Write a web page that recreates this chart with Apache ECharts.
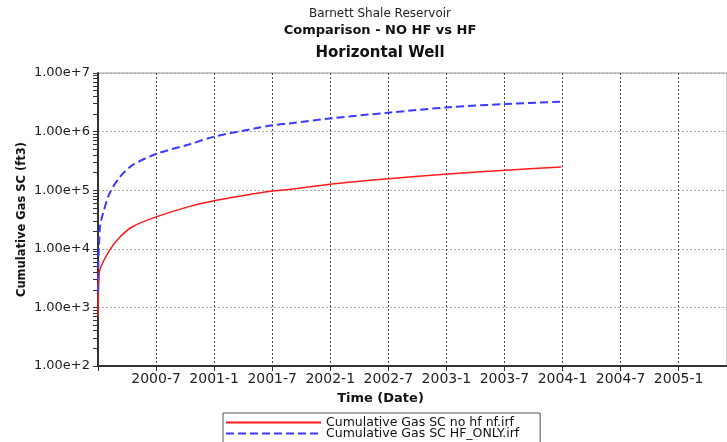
<!DOCTYPE html>
<html>
<head>
<meta charset="utf-8">
<script src="https://cdn.jsdelivr.net/npm/echarts@6/dist/echarts.min.js"></script>
<style>
  html, body { margin: 0; padding: 0; background: #fff; }
  #chart { width: 727px; height: 442px; }
</style>
</head>
<body>
<div id="chart"></div>
<script>
// Cumulative gas production, Barnett Shale horizontal well
const noHfDates = ['2000-01-01','2000-01-02','2000-01-04','2000-01-07','2000-02-07','2000-03-10','2000-04-19',
  '2000-07-01','2000-10-16','2001-01-01','2001-05-10','2001-07-01','2001-08-25','2002-01-07','2002-07-01',
  '2003-01-07','2003-07-04','2003-12-28'];
const noHfGas = [700, 1500, 3000, 4400, 9500, 16000, 24000, 35000, 53000, 66000, 88000, 97000, 103000,
  128000, 157000, 189000, 220000, 250000];

const hfDates = ['2000-01-01','2000-01-02','2000-01-04','2000-01-08','2000-01-17','2000-02-07','2000-03-10',
  '2000-04-19','2000-07-01','2000-10-16','2001-01-01','2001-05-10','2001-07-01','2001-08-25','2002-01-07',
  '2002-07-01','2003-01-07','2003-07-04','2003-12-28'];
const hfGas = [1800, 5000, 10900, 25000, 40000, 89000, 170000, 270000, 415000, 610000, 820000, 1140000,
  1280000, 1380000, 1690000, 2100000, 2600000, 2950000, 3240000];

const seriesNames = ['Cumulative Gas SC no hf nf.irf', 'Cumulative Gas SC HF_ONLY.irf'];
const titleLines = ['Barnett Shale Reservoir', 'Comparison - NO HF vs HF', 'Horizontal Well'];
const xAxisName = 'Time (Date)';
const yAxisName = 'Cumulative Gas SC (ft3)';

// time axis expressed in months since 2000-01-01
const START_YEAR = 2000;
function toMonths(s) {
  const [y, m, d] = s.split('-').map(Number);
  const dim = new Date(y, m, 0).getDate();
  return (y - START_YEAR) * 12 + (m - 1) + (d - 1) / dim;
}
function monthLabel(v) {
  if (v <= 0 || Math.abs(v % 6) > 1e-6) return '';
  const y = START_YEAR + Math.floor(v / 12);
  const m = (v % 12) + 1;
  return y + '-' + m;
}
const pairs = (dates, vals) => dates.map((d, i) => [toMonths(d), vals[i]]);

// log ticks 1..9 within each decade
const logTicks = [];
for (let e = 2; e < 7; e++) {
  for (let k = 1; k <= 9; k++) logTicks.push(k * Math.pow(10, e));
}
logTicks.push(1e7);

const FONT = 'DejaVu Sans';
const chart = echarts.init(document.getElementById('chart'));
chart.setOption({
  backgroundColor: '#fff',
  animation: false,
  textStyle: { fontFamily: FONT },
  title: [
    { text: titleLines[0], left: 380, top: 8, textAlign: 'center', padding: 0,
      textStyle: { fontFamily: FONT, fontSize: 12, fontWeight: 'normal', color: '#222' } },
    { text: titleLines[1], left: 380, top: 24, textAlign: 'center', padding: 0,
      textStyle: { fontFamily: FONT, fontSize: 13, fontWeight: 'bold', color: '#111' } },
    { text: titleLines[2], left: 380, top: 46, textAlign: 'center', padding: 0,
      textStyle: { fontFamily: FONT, fontSize: 15, fontWeight: 'bold', color: '#111' } }
  ],
  grid: {
    left: 98, top: 73, right: -2, bottom: 76,
    show: true, borderColor: '#999', borderWidth: 1
  },
  legend: {
    orient: 'vertical',
    left: 223, top: 413, height: 60,
    padding: [3, 21, 3, 2],
    itemGap: -2,
    itemWidth: 95, itemHeight: 8,
    borderColor: '#555', borderWidth: 1,
    itemStyle: { opacity: 0, color: 'rgba(0,0,0,0)', borderWidth: 0 },
    textStyle: { fontFamily: FONT, fontSize: 12.5, color: '#111' },
    data: seriesNames
  },
  xAxis: {
    type: 'value',
    min: 0, max: 65, interval: 6,
    name: xAxisName,
    nameLocation: 'middle',
    nameGap: 26,
    nameTextStyle: { fontFamily: FONT, fontSize: 13, fontWeight: 'bold', color: '#111', padding: [0, 64, 0, 0] },
    axisLine: { show: true, lineStyle: { color: '#333', width: 2 } },
    axisTick: { show: true, length: 5, lineStyle: { color: '#333' } },
    axisLabel: { formatter: monthLabel, showMaxLabel: false, fontFamily: FONT, fontSize: 14, color: '#222', margin: 6 },
    splitLine: { show: true, lineStyle: { color: '#444', type: [2, 2], width: 1 } }
  },
  yAxis: [
    {
      type: 'log', logBase: 10,
      min: 100, max: 1e7,
      name: yAxisName,
      nameLocation: 'middle',
      nameGap: 70,
      nameMoveOverlap: false,
      nameRotate: 90,
      nameTextStyle: { fontFamily: FONT, fontSize: 11.5, fontWeight: 'bold', color: '#111' },
      axisLine: { show: true, lineStyle: { color: '#333', width: 2 } },
      axisTick: { show: true, length: 5, customValues: logTicks, lineStyle: { color: '#333' } },
      axisLabel: { formatter: v => Number(v).toExponential(2), fontFamily: FONT, fontSize: 13, color: '#222', margin: 8 },
      splitLine: { show: false }
    },
    {
      // decade grid lines
      type: 'log', logBase: 10,
      min: 100, max: 1e7,
      position: 'left', offset: 0,
      axisLine: { show: false },
      axisTick: { show: false },
      axisLabel: { show: false },
      splitLine: { show: true, lineStyle: { color: '#aaa', type: [2, 2], width: 1 } }
    }
  ],
  series: [
    {
      name: seriesNames[0], type: 'line', showSymbol: false, symbol: 'none', yAxisIndex: 0,
      lineStyle: { color: '#ff1a1a', width: 1.5 }, itemStyle: { color: '#ff1a1a' },
      data: pairs(noHfDates, noHfGas), smooth: 0.3
    },
    {
      name: seriesNames[1], type: 'line', showSymbol: false, symbol: 'none', yAxisIndex: 0,
      lineStyle: { color: '#3b3bff', width: 2, type: [8, 4] }, itemStyle: { color: '#3b3bff' },
      data: pairs(hfDates, hfGas), smooth: 0.3
    }
  ]
});
</script>
</body>
</html>
